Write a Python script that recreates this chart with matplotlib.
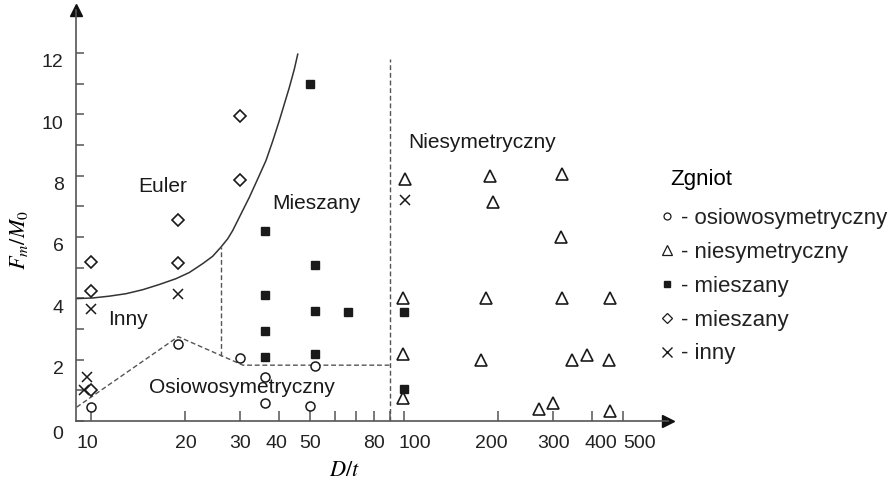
import numpy as np
import matplotlib
matplotlib.use("Agg")
import matplotlib.pyplot as plt
from matplotlib.lines import Line2D
from matplotlib.transforms import ScaledTranslation

plt.rcParams['font.family'] = ['Liberation Sans', 'DejaVu Sans']
plt.rcParams['mathtext.fontset'] = 'stix'

# --- measured points: D/t and Fm/M0 for each failure mode ---
osio_D = [10, 19, 30, 36, 36, 52, 50]
osio_F = [0.45, 2.5, 2.05, 1.45, 0.6, 1.8, 0.5]

niesym_D = [101, 188, 320, 192, 318, 99, 183, 320, 455, 99, 176, 344, 384, 450, 99, 270, 300, 455]
niesym_F = [7.9, 8.0, 8.05, 7.15, 6.0, 4.0, 4.0, 4.0, 4.0, 2.2, 2.0, 2.0, 2.15, 2.0, 0.75, 0.4, 0.6, 0.33]

miesz_sq_D = [50, 36, 52, 36, 52, 66, 36, 36, 52, 100, 100]
miesz_sq_F = [11.0, 6.2, 5.1, 4.1, 3.6, 3.55, 2.95, 2.1, 2.2, 3.55, 1.05]

miesz_dm_D = [10, 10, 19, 19, 30, 30, 10]
miesz_dm_F = [5.2, 4.25, 6.55, 5.15, 9.95, 7.85, 1.0]

inny_D = [9.7, 9.5, 10, 19, 101]
inny_F = [1.45, 1.0, 3.65, 4.15, 7.2]

# Euler boundary
euler_D = [8.96, 10.1, 11.44, 12.94, 14.63, 16.53, 18.69, 20.61, 22.75, 24.48, 26.02,
           27.34, 28.37, 30.15, 32.05, 34.09, 36.23, 38.06, 39.96, 41.46, 43.01, 44.63, 45.77]
euler_F = [3.99, 4.01, 4.07, 4.15, 4.28, 4.45, 4.64, 4.84, 5.13, 5.37, 5.67,
           5.94, 6.21, 6.75, 7.29, 7.89, 8.49, 9.12, 9.79, 10.33, 10.87, 11.47, 11.96]

# dashed boundaries
low_D = [9.0, 19, 30.6, 90]
low_F = [0.45, 2.75, 1.82, 1.82]
split_D = [26.0, 26.0]
split_F = [2.12, 5.67]
vert_D = [90, 90]
vert_F = [0, 11.8]

xticks = [10, 20, 30, 40, 50, 60, 70, 80, 90, 100, 200, 300, 400, 500]
xlabels = ['10', '20', '30', '40', '50', '', '', '80', '', '100', '200', '300', '400', '500']
# small horizontal nudges of the tick labels (px)
xlabel_nudge = [-4, 1, 0, -3, 0, 0, 0, 0, 0, 11, -7, 0, 8, 17]

ink = '#1a1a1a'
axcol = '#555555'
dash = (0, (3.5, 2))

fig = plt.figure(figsize=(8.91, 4.94), dpi=100)
ax = fig.add_axes([76 / 891, 73 / 494, 592 / 891, 411 / 494])

ax.set_xscale('log')
ax.set_xlim(8.96, 697)
ax.set_ylim(0, 13.4)

# boundaries
ax.plot(euler_D, euler_F, color='#333333', lw=1.1)
ax.plot(low_D, low_F, color='#555555', lw=1.0, ls=dash)
ax.plot(split_D, split_F, color='#555555', lw=1.0, ls=dash)
ax.plot(vert_D, vert_F, color='#555555', lw=1.0, ls=dash)

# measurements
ax.plot(osio_D, osio_F, 'o', ms=6.5, mfc='white', mec=ink, mew=1.1, ls='none')
ax.plot(niesym_D, niesym_F, '^', ms=9, mfc='white', mec=ink, mew=1.2, ls='none')
ax.plot(miesz_sq_D, miesz_sq_F, 's', ms=6.3, mfc=ink, mec=ink, ls='none')
ax.plot(miesz_dm_D, miesz_dm_F, 'D', ms=6.5, mfc='white', mec=ink, mew=1.2, ls='none')
ax.plot(inny_D, inny_F, 'x', ms=7.5, mec=ink, mew=1.1, ls='none')

# region names
fs = 15
ax.text(17, 7.65, 'Euler', fontsize=fs, ha='center', va='center', color=ink)
ax.text(52.4, 7.1, 'Mieszany', fontsize=fs, ha='center', va='center', color=ink)
ax.text(13.1, 3.3, 'Inny', fontsize=fs, ha='center', va='center', color=ink)
ax.text(30.4, 1.1, 'Osiowosymetryczny', fontsize=fs, ha='center', va='center', color=ink)
ax.text(178, 9.07, 'Niesymetryczny', fontsize=fs, ha='center', va='center', color=ink)

# axes look: only left and bottom, with arrows
for s in ['top', 'right']:
    ax.spines[s].set_visible(False)
for s in ['left', 'bottom']:
    ax.spines[s].set_color(axcol)
    ax.spines[s].set_linewidth(1.2)
ax.plot(1, 0, '>', color='#111111', ms=8, transform=ax.transAxes, clip_on=False)
ax.plot(0, 1, '^', color='#111111', ms=8, transform=ax.transAxes, clip_on=False)

ax.set_xticks(xticks)
ax.set_xticklabels(xlabels)
ax.xaxis.set_minor_locator(matplotlib.ticker.NullLocator())
ax.set_yticks(np.arange(0, 13, 2))
ax.set_yticks(np.arange(1, 13, 2), minor=True)
ax.tick_params(axis='both', which='both', direction='in', color=axcol, width=1.1,
               labelsize=14, labelcolor='#222222')
ax.tick_params(axis='x', length=7, pad=10)
ax.tick_params(axis='y', which='both', length=6, pad=9)

for lab, dx in zip(ax.get_xticklabels(), xlabel_nudge):
    lab.set_transform(lab.get_transform() + ScaledTranslation(dx / 100, 0, fig.dpi_scale_trans))

# y labels sit a little below their ticks
shift = ScaledTranslation(0, -8 / 100, fig.dpi_scale_trans)
for lab in ax.get_yticklabels():
    lab.set_transform(lab.get_transform() + shift)
ylab0 = ax.get_yticklabels()[0]
ylab0.set_transform(ylab0.get_transform() + ScaledTranslation(0, -3 / 100, fig.dpi_scale_trans))

ax.set_xlabel(r'$D/t$', fontsize=16)
ax.xaxis.set_label_coords((345 - 76) / 592, -(460 - 421) / 411)
ax.set_ylabel(r'$F_m/M_0$', fontsize=16)
ax.yaxis.set_label_coords(-(76 - 30) / 592, (421 - 240) / 411)

# legend
handles = [
    Line2D([], [], marker='o', ls='none', ms=5, mfc='white', mec=ink, mew=0.9),
    Line2D([], [], marker='^', ls='none', ms=6.5, mfc='white', mec=ink, mew=0.9),
    Line2D([], [], marker='s', ls='none', ms=5, mfc=ink, mec=ink),
    Line2D([], [], marker='D', ls='none', ms=5, mfc='white', mec=ink, mew=0.9),
    Line2D([], [], marker='x', ls='none', ms=6.5, mec=ink, mew=1.0),
]
labels = ['- osiowosymetryczny', '- niesymetryczny', '- mieszany', '- mieszany', '- inny']
leg = fig.legend(handles, labels, title='Zgniot', loc='upper left',
                 bbox_to_anchor=(640 / 891, 1 - 154 / 494), frameon=False,
                 fontsize=16, title_fontsize=16, alignment='left',
                 handlelength=0.6, handletextpad=0.35, labelspacing=0.58)
for t in leg.get_texts():
    t.set_color('#222222')
title = leg.get_title()
title.set_transform(title.get_transform() + ScaledTranslation(10 / 100, 5 / 100, fig.dpi_scale_trans))

fig.savefig('out.png', dpi=100)
